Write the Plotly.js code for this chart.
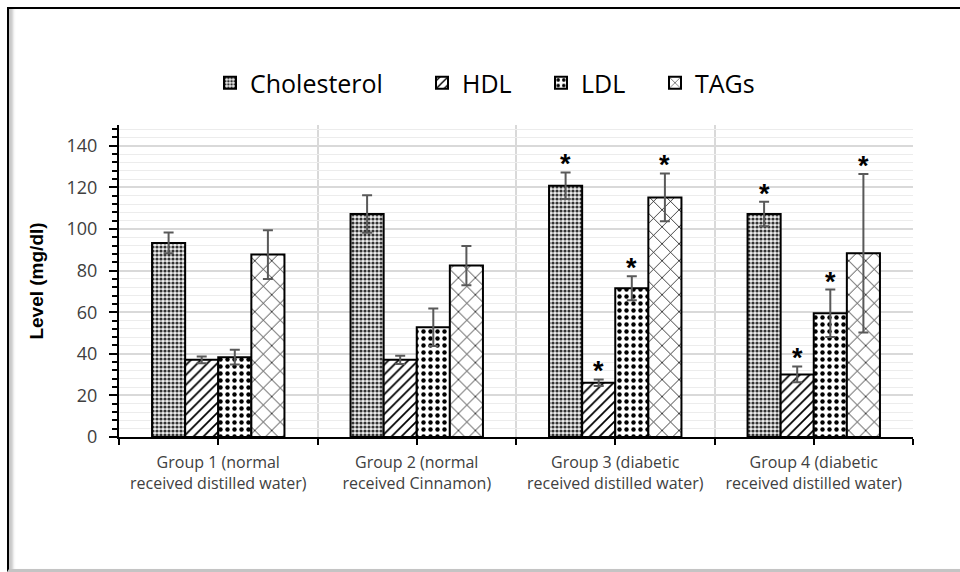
<!DOCTYPE html>
<html>
<head>
<meta charset="utf-8">
<script src="https://cdn.plot.ly/plotly-3.0.1.min.js"></script>
<style>
  html, body { margin: 0; padding: 0; background: #fff; }
  #chart { width: 960px; height: 572px; position: absolute; left: 0; top: 0; }
  #frame { position: absolute; left: 7px; top: 7px; width: 953px; height: 565px;
           border-top: 2px solid #000; border-left: 2px solid #000; border-bottom: 3px solid #c4c4c4;
           box-shadow: inset 6px 0 3px -2px #c8c8c8; pointer-events: none; box-sizing: border-box; }
</style>
</head>
<body>
<div id="chart"></div>
<div id="frame"></div>
<script>
// ---- data ----
const groups = [
  "Group 1 (normal<br>received distilled water)",
  "Group 2 (normal<br>received Cinnamon)",
  "Group 3 (diabetic<br>received distilled water)",
  "Group 4 (diabetic<br>received distilled water)"
];
const seriesNames = ["Cholesterol", "HDL", "LDL", "TAGs"];
const cholesterol    = [93.3, 107.2, 120.8, 107.2];
const cholesterolErr = [5.0, 9.0, 6.4, 5.9];
const hdl            = [37.1, 37.1, 26.1, 30.1];
const hdlErr         = [1.6, 2.0, 1.6, 3.8];
const ldl            = [38.4, 52.8, 71.5, 59.5];
const ldlErr         = [3.6, 9.0, 5.8, 11.4];
const tags           = [87.7, 82.4, 115.2, 88.3];
const tagsErr        = [11.7, 9.4, 11.5, 38.1];
const significant    = [false, false, true, true];   // * marks vs control
const yTicks = [0, 20, 40, 60, 80, 100, 120, 140];

// ---- build ----
const FONT = "Open Sans, Liberation Sans, Arial, sans-serif";
const xPos = groups.map((g, i) => i);
const values = [cholesterol, hdl, ldl, tags];
const errors = [cholesterolErr, hdlErr, ldlErr, tagsErr];
const patterns = [
  {shape: ".", size: 4, solidity: 0.5, fgcolor: "#333", bgcolor: "#eeeeee"},
  {shape: "/", size: 7, solidity: 0.25, fgcolor: "#000", bgcolor: "#fff"},
  {shape: ".", size: 7, solidity: 0.32, fgcolor: "#000", bgcolor: "#fff"},
  {shape: "x", size: 12, solidity: 0.12, fgcolor: "#000", bgcolor: "#fff"}
];
// legend entry placement (symbol centre, px from left of page)
const legendSymbolX = [230, 442, 561, 675];
const legendIds = ["legend", "legend2", "legend3", "legend4"];

const bargap = 0.333;
const barW = (1 - bargap) / seriesNames.length;

const traces = seriesNames.map((name, k) => ({
  type: "bar",
  name: name,
  x: xPos,
  y: values[k],
  legend: legendIds[k],
  marker: { color: "#fff", pattern: patterns[k], line: { color: "#000", width: 2 } },
  error_y: { type: "data", array: errors[k], visible: true, color: "#595959", thickness: 2, width: 5 },
  hoverinfo: "y"
}));

const annotations = [];
seriesNames.forEach((name, k) => {
  values[k].forEach((v, i) => {
    if (significant[i]) {
      annotations.push({
        x: i + (k - (seriesNames.length - 1) / 2) * barW,
        y: v + errors[k][i],
        xref: "x", yref: "y",
        text: "<b>*</b>", showarrow: false,
        yanchor: "bottom", yshift: -9,
        font: { family: "Liberation Sans, Arial, sans-serif", size: 27, color: "#000" }
      });
    }
  });
});

const layout = {
  width: 960, height: 572,
  margin: { l: 119, r: 47, t: 125, b: 135 },
  paper_bgcolor: "rgba(0,0,0,0)",
  plot_bgcolor: "#fff",
  font: { family: FONT, color: "#404040" },
  barmode: "group",
  bargap: bargap,
  bargroupgap: 0,
  showlegend: true,
  xaxis: {
    type: "linear",
    range: [-0.5, groups.length - 0.5],
    tickvals: xPos,
    ticktext: groups,
    ticks: "outside", ticklen: 6, tickwidth: 2, tickcolor: "#000",
    ticklabelstandoff: 4,
    showgrid: false, zeroline: false,
    showline: true, linecolor: "#000", linewidth: 2,
    tickfont: { size: 16, color: "#404040", family: FONT },
    minor: { tick0: -0.5, dtick: 1, ticks: "outside", ticklen: 6, tickwidth: 2, tickcolor: "#000",
             showgrid: true, gridcolor: "#d9d9d9", gridwidth: 2 },
    fixedrange: true
  },
  yaxis: {
    range: [0, 150],
    tickvals: yTicks,
    ticks: "outside", ticklen: 8, tickwidth: 2, tickcolor: "#000",
    ticklabelstandoff: 8,
    showgrid: true, gridcolor: "#d9d9d9", gridwidth: 2,
    zeroline: false,
    showline: true, linecolor: "#000", linewidth: 2,
    tickfont: { size: 18, color: "#404040", family: FONT },
    minor: { dtick: 4, ticks: "outside", ticklen: 5, tickwidth: 2, tickcolor: "#000",
             showgrid: true, gridcolor: "#ececec", gridwidth: 1 },
    title: { text: "<b>Level (mg/dl)</b>", font: { size: 19, color: "#000", family: "Liberation Sans, Arial, sans-serif" }, standoff: 18 },
    fixedrange: true
  },
  annotations: annotations
};
legendIds.forEach((id, k) => {
  layout[id] = {
    orientation: "h", xref: "container", yref: "container",
    x: (legendSymbolX[k] - 20) / 960, xanchor: "left", y: 1 - 83 / 572, yanchor: "middle",
    font: { size: 25, color: "#000", family: FONT },
    bgcolor: "rgba(0,0,0,0)", borderwidth: 0
  };
});

Plotly.newPlot("chart", traces, layout, { displayModeBar: false, staticPlot: true });
</script>
</body>
</html>
